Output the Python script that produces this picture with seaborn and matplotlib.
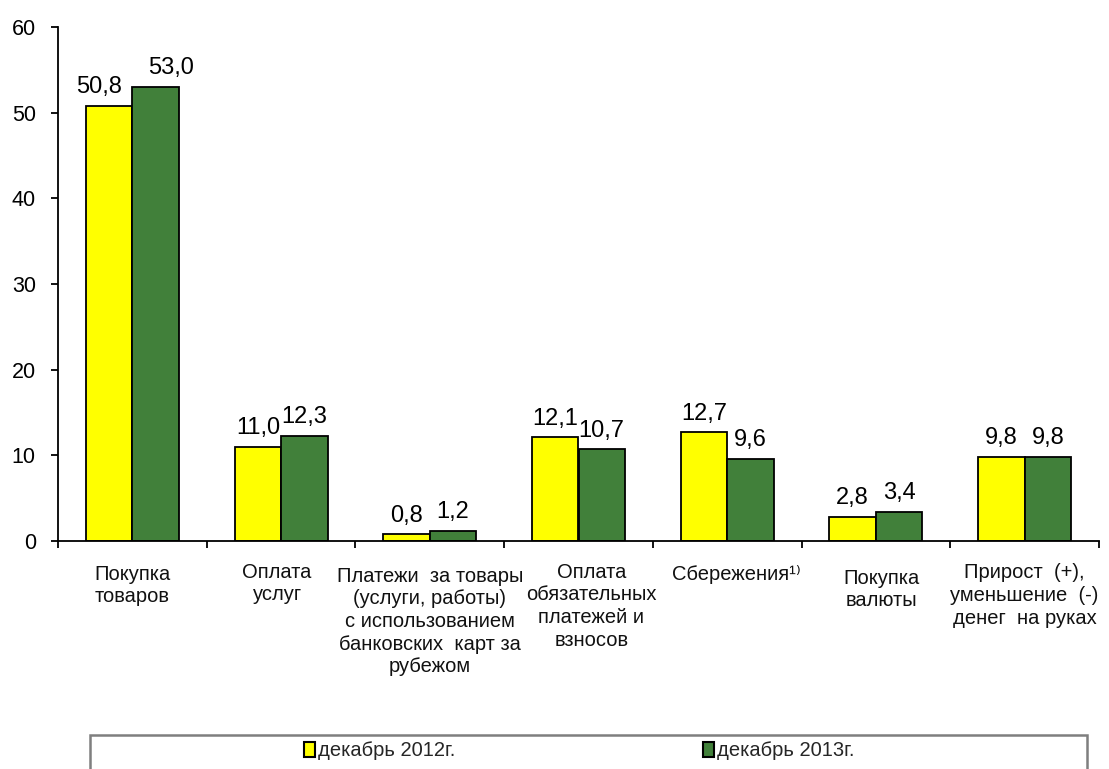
import matplotlib
matplotlib.use("Agg")
import matplotlib.pyplot as plt
import matplotlib.transforms as mtransforms
from matplotlib.patches import Patch, Rectangle
import numpy as np
import pandas as pd
import seaborn as sns

categories = [
    "Покупка\nтоваров",
    "Оплата\nуслуг",
    "Платежи  за товары\n(услуги, работы)\nс использованием\nбанковских  карт за\nрубежом",
    "Оплата\nобязательных\nплатежей и\nвзносов",
    "Сбережения¹⁾",
    "Покупка\nвалюты",
    "Прирост  (+),\nуменьшение  (-)\nденег  на руках",
]
series_names = ["декабрь 2012г.", "декабрь 2013г."]
values_2012 = [50.8, 11.0, 0.8, 12.1, 12.7, 2.8, 9.8]
values_2013 = [53.0, 12.3, 1.2, 10.7, 9.6, 3.4, 9.8]
y_ticks = [0, 10, 20, 30, 40, 50, 60]

# styling
colors = ["#FFFF00", "#41803A"]
label_dy_px = [-1, 1, -3, 1, -1, -5, 0]         # small vertical nudges of category labels
label_dx_px = [0, -4, 0, 13, 9, 6, 0]           # small horizontal nudges of category labels
first_group_dx_pt = [-7, 11]                     # value labels of first group were moved apart
label_pad_pt = 5.5

sns.set_theme(style="white")
plt.rcParams["font.family"] = ["Liberation Sans", "DejaVu Sans"]

df = pd.DataFrame({
    "cat": categories * 2,
    "val": values_2012 + values_2013,
    "period": [series_names[0]] * len(categories) + [series_names[1]] * len(categories),
})

fig = plt.figure(figsize=(11.09, 7.69), dpi=100)
ax = fig.add_axes([58 / 1109, 1 - 541 / 769, (1099 - 58) / 1109, (541 - 27) / 769])

sns.barplot(data=df, x="cat", y="val", hue="period", palette=colors, width=0.625,
            edgecolor="black", linewidth=1.3, ax=ax, legend=False, errorbar=None,
            saturation=1)

for si, cont in enumerate(ax.containers):
    labels = [f"{b.get_height():.1f}".replace(".", ",") for b in cont]
    texts = ax.bar_label(cont, labels=labels, padding=label_pad_pt, fontsize=17, color="black")
    texts[0].xyann = (first_group_dx_pt[si], label_pad_pt)

ax.set_ylim(0, 60)
ax.set_xlim(-0.5, len(categories) - 0.5)
ax.set_yticks(y_ticks)
ax.set_yticklabels([str(t) for t in y_ticks], fontsize=15.5)
ax.set_xlabel("")
ax.set_ylabel("")

ax.set_xticks(np.arange(-0.5, len(categories), 1), minor=True)
ax.tick_params(axis="x", which="minor", bottom=True, length=5, width=1.3, color="black", direction="out")
ax.tick_params(axis="x", which="major", bottom=False, length=0, pad=16.2)
ax.tick_params(axis="y", which="major", left=True, length=5, width=1.3, color="black", direction="out", pad=11)
for i, lab in enumerate(ax.get_xticklabels()):
    lab.set_fontsize(14.5)
    lab.set_linespacing(1.25)
    lab.set_color("#111111")
    lab.set_verticalalignment("top")
    lab.set_transform(lab.get_transform() + mtransforms.ScaledTranslation(
        label_dx_px[i] / 100, label_dy_px[i] / 100, fig.dpi_scale_trans))
for lab in ax.get_yticklabels():
    lab.set_color("black")

for s in ["top", "right"]:
    ax.spines[s].set_visible(False)
for s in ["left", "bottom"]:
    ax.spines[s].set_color("black")
    ax.spines[s].set_linewidth(1.3)
ax.grid(False)

# legend frame (cut off at bottom like the reference)
fig.patches.append(Rectangle((90 / 1109, -0.05), (1087 - 90) / 1109, 1 - 735 / 769 + 0.05,
                             transform=fig.transFigure, fill=False, edgecolor="#7f7f7f",
                             linewidth=1.8))
handles = [Patch(facecolor=c, edgecolor="black", linewidth=1.5) for c in colors]
fig.legend(handles, series_names, loc="center", bbox_to_anchor=(0.522, 1 - 751 / 769),
           ncol=2, frameon=False, fontsize=14.5, handlelength=0.55, handleheight=0.75,
           handletextpad=0.15, columnspacing=12.3)

fig.savefig("out.png", dpi=100)
